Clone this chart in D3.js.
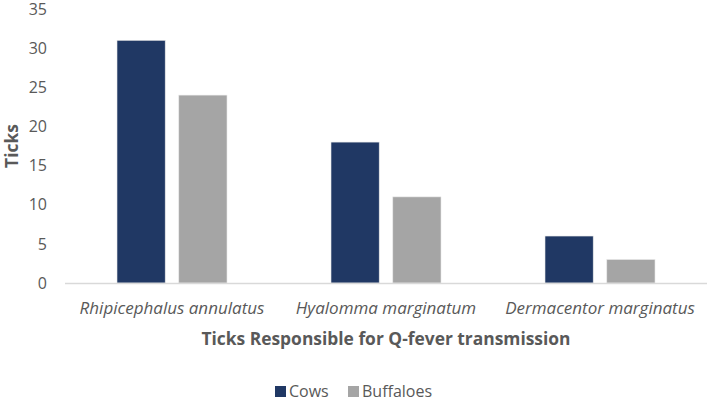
<!DOCTYPE html>
<html>
<head>
<meta charset="utf-8">
<script src="https://cdn.jsdelivr.net/npm/d3@7"></script>
<style>
  body { margin: 0; background: #fff; }
  text { font-family: "Open Sans", "Noto Sans", sans-serif; fill: #595959; }
</style>
</head>
<body>
<script>
const categories = ["Rhipicephalus annulatus", "Hyalomma marginatum", "Dermacentor marginatus"];
const seriesNames = ["Cows", "Buffaloes"];
const cows = [31, 18, 6];
const buffaloes = [24, 11, 3];
const yTicks = [0, 5, 10, 15, 20, 25, 30, 35];
const colors = ["#203864", "#a5a5a5"];

const width = 708, height = 402;
const margin = { top: 9, right: 1, bottom: 119, left: 65 };

const svg = d3.select("body").append("svg")
  .attr("width", width)
  .attr("height", height);

const x = d3.scaleBand()
  .domain(categories)
  .range([margin.left, width - margin.right]);

const x1 = d3.scaleBand()
  .domain(seriesNames)
  .range([52, x.bandwidth() - 52])
  .paddingInner(0.22);

const y = d3.scaleLinear()
  .domain([0, 35])
  .range([height - margin.bottom, margin.top]);

// y tick labels
svg.append("g")
  .selectAll("text")
  .data(yTicks)
  .enter()
  .append("text")
  .attr("x", 47)
  .attr("y", (d) => y(d))
  .attr("dy", "0.36em")
  .attr("text-anchor", "end")
  .style("font-size", "16px")
  .text((d) => d);

// bars
const rows = categories.map((c, i) => ({ cat: c, values: [cows[i], buffaloes[i]] }));
const group = svg.append("g")
  .selectAll("g")
  .data(rows)
  .enter()
  .append("g")
  .attr("transform", (d) => `translate(${x(d.cat)},0)`);

group.selectAll("rect")
  .data((d) => d.values.map((v, j) => ({ name: seriesNames[j], value: v, j })))
  .enter()
  .append("rect")
  .attr("x", (d) => x1(d.name))
  .attr("y", (d) => y(d.value))
  .attr("width", x1.bandwidth())
  .attr("height", (d) => y(0) - y(d.value))
  .attr("fill", (d) => colors[d.j])
  .attr("stroke", "#e8e8e8")
  .attr("stroke-width", 0.6);

// baseline
svg.append("line")
  .attr("x1", margin.left)
  .attr("x2", width - margin.right)
  .attr("y1", y(0) + 0.5)
  .attr("y2", y(0) + 0.5)
  .attr("stroke", "#d9d9d9")
  .attr("stroke-width", 1.5);

// category labels
svg.append("g")
  .selectAll("text")
  .data(categories)
  .enter()
  .append("text")
  .attr("x", (d) => x(d) + x.bandwidth() / 2)
  .attr("y", 314)
  .attr("text-anchor", "middle")
  .style("font-size", "17px")
  .style("font-style", "italic")
  .text((d) => d);

// axis titles
svg.append("text")
  .attr("x", (margin.left + width - margin.right) / 2)
  .attr("y", 345)
  .attr("text-anchor", "middle")
  .style("font-size", "17.4px")
  .style("font-weight", "bold")
  .text("Ticks Responsible for Q-fever transmission");

svg.append("text")
  .attr("transform", `translate(18,${(y(0) + y(35)) / 2}) rotate(-90)`)
  .attr("text-anchor", "middle")
  .style("font-size", "17.4px")
  .style("font-weight", "bold")
  .text("Ticks");

// legend
const legendX = [275, 348];
const legend = svg.append("g")
  .selectAll("g")
  .data(seriesNames)
  .enter()
  .append("g")
  .attr("transform", (d, i) => `translate(${legendX[i]},397)`);

legend.append("rect")
  .attr("x", 0)
  .attr("y", -11)
  .attr("width", 11)
  .attr("height", 11)
  .attr("fill", (d, i) => colors[i]);

legend.append("text")
  .attr("x", 14)
  .attr("y", 0)
  .style("font-size", "16px")
  .text((d) => d);
</script>
</body>
</html>
